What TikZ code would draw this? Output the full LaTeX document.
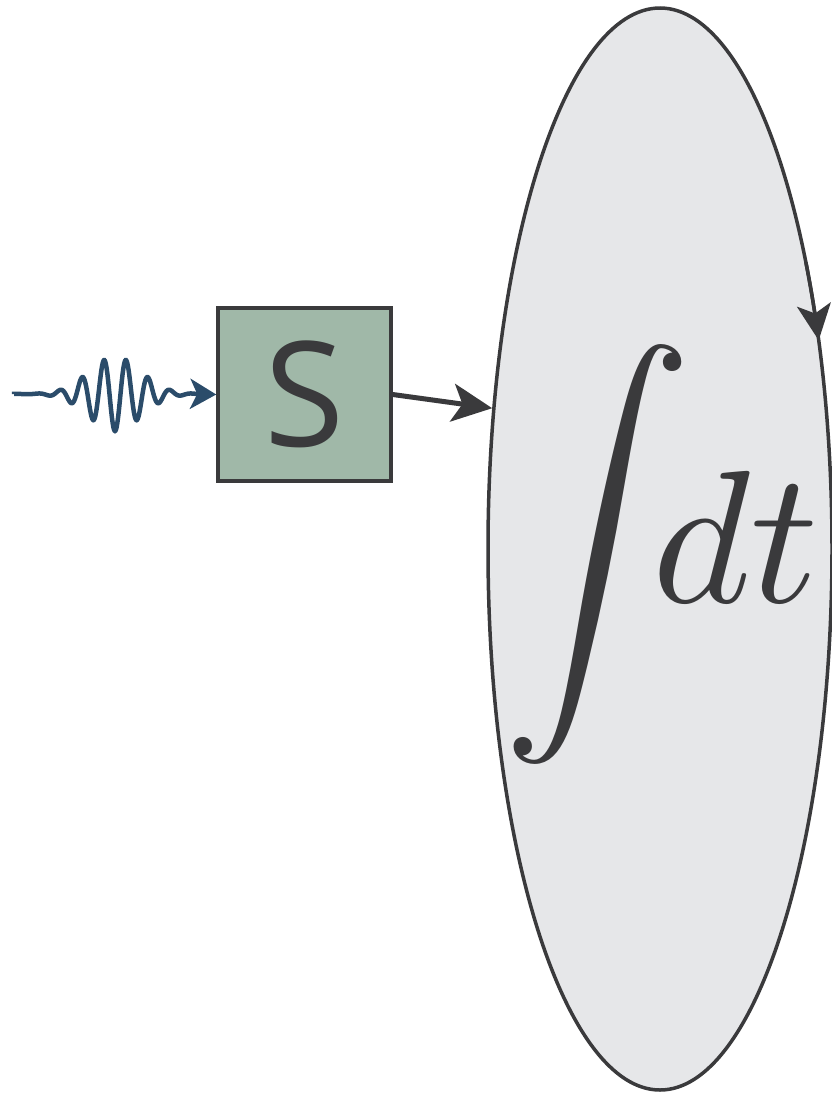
\documentclass[tikz,border=0pt]{standalone}
\usepackage{graphicx}
\usepackage{fontspec}
\newfontfamily\boxfont{Open Sans}
\usetikzlibrary{shapes.geometric,arrows.meta}
\definecolor{inkdark}{HTML}{3A3A3C}
\definecolor{wavecol}{HTML}{2B4C6A}
\definecolor{boxfill}{HTML}{A0B8A8}
\definecolor{ellfill}{HTML}{E6E7E9}
\tikzset{
  sbox/.style={draw=inkdark, line width=3.5pt, fill=boxfill, minimum width=173pt, minimum height=173pt, inner sep=0pt, text=inkdark},
  intell/.style={ellipse, draw=inkdark, line width=3.5pt, fill=ellfill, minimum width=344pt, minimum height=1082pt, inner sep=0pt},
  conn/.style={draw=inkdark, line width=5pt, -{Stealth[length=40pt,width=38pt,inset=10pt]}},
  wavy/.style={draw=wavecol, line width=4.5pt, -{Stealth[length=26pt,width=30pt,inset=7pt]}},
  loopdir/.style={draw=inkdark, line width=3.5pt, -{Stealth[length=36pt,width=34pt,inset=9pt]}}
}
\begin{document}
\begin{tikzpicture}[x=1pt,y=-1pt]
\useasboundingbox (0,0) rectangle (831,1095);
\node[intell] (ell) at (660,549) {};
\node[anchor=base, inner sep=0pt, text=inkdark] (formula) at (661,602) {\scalebox{18.9}{$\displaystyle\int\mkern-6.8mu dt$}};
\node[sbox] (S) at (304.5,394.5) {\boxfont\fontsize{146}{150}\selectfont S};
\coordinate (src) at (14,394);
\draw[wavy] (src) -- plot[domain=14:198, samples=400, smooth] (\x,{394+37*exp(0-((\x-115)/37)*((\x-115)/37))*cos(16.3636*(\x-115))}) -- (S.west);
\draw[conn] (S.east) -- (ell.140.5);
\draw[loopdir] plot[domain=-32:-22.7, samples=20] ({660+172*cos(\x)},{549+541*sin(\x)});
\end{tikzpicture}
\end{document}
